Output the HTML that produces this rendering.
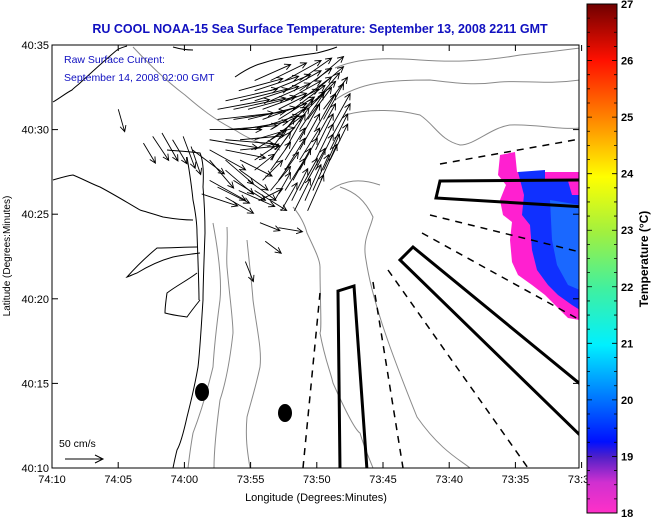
<!DOCTYPE html>
<html><head><meta charset="utf-8"><style>
html,body{margin:0;padding:0;background:#fff;}
svg{display:block;font-family:"Liberation Sans",Arial,sans-serif;}
</style></head><body>
<svg id="chart" width="651" height="518" viewBox="0 0 651 518">
<rect x="0" y="0" width="651" height="518" fill="#fff"/>
<defs>
<linearGradient id="cb" x1="0" y1="1" x2="0" y2="0">
<stop offset="0" stop-color="#ff30c8"/>
<stop offset="0.06" stop-color="#d030d0"/>
<stop offset="0.11" stop-color="#5020c8"/>
<stop offset="0.14" stop-color="#0010ff"/>
<stop offset="0.22" stop-color="#0070ff"/>
<stop offset="0.33" stop-color="#00f0ff"/>
<stop offset="0.44" stop-color="#40f0a0"/>
<stop offset="0.55" stop-color="#a0f040"/>
<stop offset="0.66" stop-color="#ffff00"/>
<stop offset="0.78" stop-color="#ff8000"/>
<stop offset="0.89" stop-color="#ff1000"/>
<stop offset="1" stop-color="#700000"/>
</linearGradient>
<clipPath id="plotclip"><rect x="52" y="45" width="527" height="423"/></clipPath>
</defs>
<text x="320" y="33" text-anchor="middle" font-size="12.5" font-weight="bold" fill="#1010c0">RU COOL  NOAA-15  Sea Surface Temperature:  September 13, 2008 2211 GMT</text>
<g id="plot" clip-path="url(#plotclip)">
<polygon fill="#ff20d0" points="500,155 515,152 517,172 580,172 580,320 568,318 555,305 545,295 532,285 518,275 512,262 510,240 512,222 503,215 500,200 506,185 498,175"/>
<polygon fill="#1030ff" points="518,172 545,170 545,180 568,181 572,195 580,195 580,310 572,305 558,295 548,285 537,270 532,250 530,225 522,215 524,195"/>
<polygon fill="#2080ff" opacity="0.7" points="550,200 580,205 580,290 568,285 557,265 552,240"/>
<g fill="none" stroke="#8a8a8a" stroke-width="1">
<path d="M335,68 C360,57 390,58 420,60 C450,62 480,62 520,55 C550,52 565,50 580,48"/>
<path d="M335,100 C360,82 390,80 430,80 C450,82 470,86 500,82 C525,80 545,85 580,80"/>
<path d="M345,115 C370,108 400,110 420,115 C435,125 440,140 460,145 C475,145 490,128 510,125 C535,124 560,130 580,128"/>
<path d="M340,187 C355,192 365,200 373,217 C370,230 362,240 366,260 C372,300 390,350 417,417 C440,450 460,460 470,468"/>
<path d="M293,207 C300,215 305,225 307,233 C315,250 320,260 320,267 C320,300 322,330 320,333 C325,360 330,370 333,383 C345,410 355,430 360,433 C365,450 370,460 373,468"/>
<path d="M213,223 C218,250 222,280 220,300 C216,330 214,350 213,367 C205,400 198,420 193,433 C190,450 189,460 188,468"/>
<path d="M227,227 C228,245 226,255 227,267 C230,300 233,320 233,333 C230,360 225,385 220,400 C216,430 214,450 214,468"/>
<path d="M247,240 C250,270 252,285 253,300 C257,330 262,350 260,367 C255,390 250,405 247,417 C245,440 248,455 250,468"/>
<path d="M133,47 C150,65 165,80 185,95 C200,108 215,120 235,130 C250,140 265,145 280,150"/>
<path d="M330,190 C345,180 360,178 380,185"/>
</g>
<g fill="none" stroke="#000" stroke-width="1">
<path d="M167,150 C180,151 192,152 200,153 C203,160 204,170 203,187 C205,210 205,230 205,233 C204,260 203,290 203,300 C201,330 200,350 198,367 C194,390 190,405 187,417 C183,435 180,445 177,450 C175,458 174,463 173,468"/>
<path d="M187,157 C190,175 192,190 193,200 C196,215 197,225 197,233 C198,260 199,290 199,300"/>
<path d="M53,180 C60,178 66,176 73,175 C85,180 92,184 100,187 C115,195 128,203 140,210 C150,213 157,215 163,217 C175,219 185,220 193,220"/>
<path d="M197,247 C185,247 170,248 157,248 C145,258 135,268 127,277 C130,276 134,274 137,273 C150,265 162,260 173,257 C183,255 192,254 200,253"/>
<path d="M197,273 C188,280 176,286 167,293 C166,300 165,307 165,313 C172,315 180,316 187,317 C192,310 196,305 200,300"/>
<path d="M53,102 C60,98 66,93 72,90 C75,87 78,85 80,83 C92,72 105,60 117,50 C120,48 124,47 127,46"/>
<path d="M235,77 C245,70 255,65 263,63 C272,60 282,58 290,57 C300,55 310,54 317,53 C325,51 332,49 337,47"/>
<path d="M173,47 C180,49 187,50 193,50"/>
</g>
<g fill="none" stroke="#000" stroke-width="1.5" stroke-dasharray="7,6">
<path d="M303,468 L320,293"/>
<path d="M373,282 L403,468"/>
<path d="M388,270 L528,468"/>
<path d="M422,233 L580,320"/>
<path d="M430,215 L580,252"/>
<path d="M440,164 L580,139"/>
</g>
<g fill="none" stroke="#000" stroke-width="3">
<polygon points="440,181 585,180 585,207 436,198"/>
<polygon points="413,247 585,388 585,440 400,260"/>
<polygon points="338,291 354,286 367,470 340,470"/>
</g>
<ellipse cx="202" cy="392" rx="7" ry="9" fill="#000"/>
<ellipse cx="285" cy="413" rx="7" ry="9" fill="#000"/>
<g id="arrows"></g>
</g>
<rect x="52" y="45" width="527" height="423" fill="none" stroke="#000" stroke-width="1"/>
<g id="axes"></g>
<text x="64" y="63" font-size="10.5" fill="#1010c0">Raw Surface Current:</text>
<text x="64" y="81" font-size="10.5" fill="#1010c0">September 14, 2008 02:00 GMT</text>
<text x="59" y="447" font-size="10.5" fill="#000">50 cm/s</text>
<g stroke="#000" fill="none"><path d="M65,459 L103,459 M95,455 L103,459 L95,463"/></g>
<text x="316" y="501" text-anchor="middle" font-size="11">Longitude (Degrees:Minutes)</text>
<text transform="translate(10,256) rotate(-90)" text-anchor="middle" font-size="10">Latitude (Degrees:Minutes)</text>
<rect x="587" y="4" width="30" height="509" fill="url(#cb)" stroke="#000" stroke-width="1"/>
<g id="cbticks"></g>
<text transform="translate(648,259) rotate(-90)" text-anchor="middle" font-size="12" font-weight="bold">Temperature (°C)</text>
</svg>
<script>
const xTicks = ["74:10","74:05","74:00","73:55","73:50","73:45","73:40","73:35","73:30"];
const yTicks = ["40:10","40:15","40:20","40:25","40:30","40:35"];
const cbTicks = [18,19,20,21,22,23,24,25,26,27];
// arrows: lon minutes west of 73:30, lat minutes north of 40:10, u,v in cm/s
const arrowLon = [24.8,23.6,22.5,21.4,20.2, 26.0,24.8,23.6,22.5,21.4,20.2, 27.0,25.9,24.8,23.6,22.5,21.4,20.2, 27.6,26.4,25.3,24.2,23.0,21.9,20.8,19.6, 27.6,26.4,25.3,24.2,23.0,21.9,20.8,19.6, 28.2,27.0,25.9,24.8,23.6,22.5,21.4,20.2,19.1, 28.2,27.0,25.9,24.8,23.6,22.5,21.4,20.2,19.1, 29.5,28.2,27.0,25.9,24.8,23.6,22.5,21.4,20.2,19.1, 28.2,27.0,25.9,24.8,23.6,22.5,21.4,20.2,19.1, 27.0,25.9,24.8,23.6,22.5,21.4,20.2,19.6, 26.4,25.3,24.2,23.0,21.9,20.8,19.8, 26.0,24.8,23.6,22.5,21.4,20.4, 24.5,23.3,22.0,21.0, 22.8,21.8,20.8, 32.5,31.8,31.0,30.2,29.6,33.2, 28.2,27.6,28.8,27.0, 35.1,24.4,23.0,24.0,25.5];
const arrowLat = [22.9,22.9,22.9,22.9,22.9, 22.3,22.3,22.3,22.3,22.3,22.3, 21.7,21.7,21.7,21.7,21.7,21.7,21.7, 21.2,21.2,21.2,21.2,21.2,21.2,21.2,21.2, 20.6,20.6,20.6,20.6,20.6,20.6,20.6,20.6, 20.0,20.0,20.0,20.0,20.0,20.0,20.0,20.0,20.0, 19.4,19.4,19.4,19.4,19.4,19.4,19.4,19.4,19.4, 18.8,18.8,18.8,18.8,18.8,18.8,18.8,18.8,18.8,18.8, 18.2,18.2,18.2,18.2,18.2,18.2,18.2,18.2,18.2, 17.6,17.6,17.6,17.6,17.6,17.6,17.6,17.6, 17.0,17.0,17.0,17.0,17.0,17.0,17.0, 16.4,16.4,16.4,16.4,16.4,16.4, 15.8,15.8,15.8,15.8, 15.2,15.2,15.2, 19.6,19.8,19.4,19.6,19.0,19.2, 17.0,16.6,16.2,16.0, 21.2,14.5,14.2,13.4,12.2];
const arrowU = [45,45,45,40,35, 55,55,50,45,40,35, 65,60,55,50,45,40,30, 65,65,60,55,50,40,35,30, 70,65,60,55,45,40,30,25, 65,65,60,55,45,35,30,25,25, 60,60,55,50,40,30,25,25,25, 40,45,50,50,40,30,25,25,22,22, 30,35,40,30,25,25,25,22,22, 35,35,25,25,25,22,22,20, 40,35,25,25,22,22,20, 45,40,25,25,22,20, 30,20,20,20, 20,20,20, 20,20,18,15,12,15, 45,40,45,35, 8,25,30,20,10];
const arrowV = [20,22,25,28,30, 15,18,20,25,28,30, 15,15,18,22,25,30,35, 12,14,16,20,25,30,35,40, 8,10,15,20,28,35,40,45, 0,5,10,18,28,38,45,45,45, -10,-5,5,15,30,40,45,45,45, -30,-25,-10,5,25,40,45,45,45,45, -35,-30,-20,20,35,40,40,45,45, -30,-25,20,35,40,40,45,45, -25,-25,25,35,40,40,45, -20,-25,30,40,40,45, 15,35,40,45, 35,40,45, -30,-35,-30,-40,-35,-25, -25,-20,-15,-20, -28,-10,-5,-15,-25];

const svgNS="http://www.w3.org/2000/svg";
function xOf(lonW){return 583-lonW*13.24;}
function yOf(latN){return 468-latN*16.92;}
const scale=0.8;
const ag=document.getElementById('arrows');
for(let i=0;i<arrowLon.length;i++){
  const x0=xOf(arrowLon[i]), y0=yOf(arrowLat[i]);
  const dx=arrowU[i]*scale, dy=-arrowV[i]*scale;
  const x1=x0+dx, y1=y0+dy;
  const L=Math.hypot(dx,dy)||1, ux=dx/L, uy=dy/L;
  const h=6, w=3;
  const p=document.createElementNS(svgNS,'path');
  p.setAttribute('d',`M${x0},${y0} L${x1},${y1} M${x1-ux*h-uy*w},${y1-uy*h+ux*w} L${x1},${y1} L${x1-ux*h+uy*w},${y1-uy*h-ux*w}`);
  p.setAttribute('stroke','#000');p.setAttribute('fill','none');p.setAttribute('stroke-width','0.9');
  
  
  ag.appendChild(p);
}
const axes=document.getElementById('axes');
xTicks.forEach((t,i)=>{
  const x=52+i*66.2;
  const l=document.createElementNS(svgNS,'line');
  l.setAttribute('x1',x);l.setAttribute('x2',x);l.setAttribute('y1',468);l.setAttribute('y2',462);l.setAttribute('stroke','#000');
  
  
  axes.appendChild(l);
  const l2=l.cloneNode();l2.setAttribute('y1',45);l2.setAttribute('y2',51);axes.appendChild(l2);
  const tx=document.createElementNS(svgNS,'text');
  tx.setAttribute('x',x);tx.setAttribute('y',483);tx.setAttribute('text-anchor','middle');tx.setAttribute('font-size','11');
  tx.textContent=t;
  
  
  axes.appendChild(tx);
});
yTicks.forEach((t,i)=>{
  const y=468-i*84.6;
  const l=document.createElementNS(svgNS,'line');
  l.setAttribute('x1',52);l.setAttribute('x2',58);l.setAttribute('y1',y);l.setAttribute('y2',y);l.setAttribute('stroke','#000');
  
  
  axes.appendChild(l);
  const l2=l.cloneNode();l2.setAttribute('x1',573);l2.setAttribute('x2',579);axes.appendChild(l2);
  const tx=document.createElementNS(svgNS,'text');
  tx.setAttribute('x',49);tx.setAttribute('y',y+4);tx.setAttribute('text-anchor','end');tx.setAttribute('font-size','11');
  tx.textContent=t;
  
  
  axes.appendChild(tx);
});
const cbg=document.getElementById('cbticks');
function cy(v){return 513-(v-18)*(509/9);}
for(let v=18;v<=27.001;v+=0.25){
  const y=cy(v), major=Math.abs(v-Math.round(v))<0.01;
  const w=major?5:3;
  const l=document.createElementNS(svgNS,'path');
  l.setAttribute('d',`M587,${y} L${587+w},${y} M617,${y} L${617-w},${y}`);
  l.setAttribute('stroke','#000');l.setAttribute('stroke-width','0.8');
  
  
  cbg.appendChild(l);
}
cbTicks.forEach(v=>{
  const tx=document.createElementNS(svgNS,'text');
  tx.setAttribute('x',621);tx.setAttribute('y',cy(v)+4);tx.setAttribute('font-size','11');tx.setAttribute('font-weight','bold');
  tx.textContent=String(v);
  
  
  cbg.appendChild(tx);
});
</script>
</body></html>
